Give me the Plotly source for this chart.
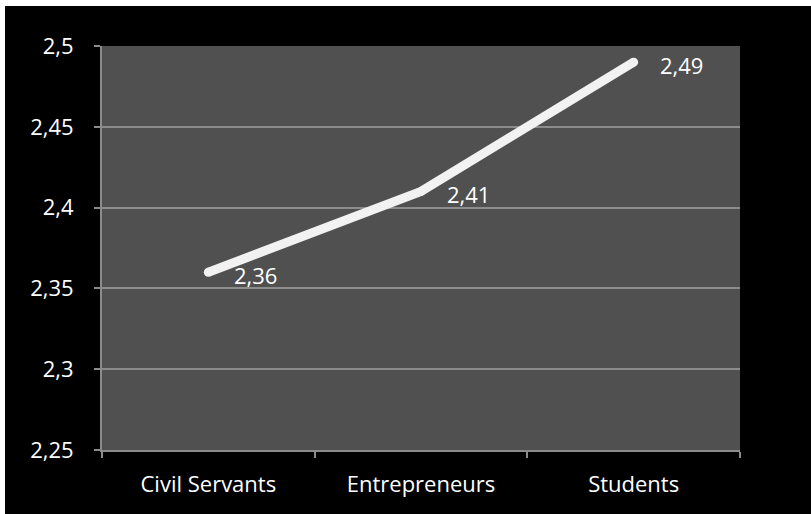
import plotly.graph_objects as go

categories = ["Civil Servants", "Entrepreneurs", "Students"]
values = [2.36, 2.41, 2.49]
value_labels = ["2,36", "2,41", "2,49"]
y_ticks = [2.25, 2.3, 2.35, 2.4, 2.45, 2.5]

W, H = 811, 514
ML, MR, MT, MB = 102, 71, 46, 64
pw, ph = W - ML - MR, H - MT - MB

line_col = "#f2f2f2"
grid_col = "#8c8c8c"
font_family = "'Open Sans', sans-serif"
fs = 22

fig = go.Figure()
fig.add_trace(go.Scatter(
    x=categories, y=values, mode="lines+markers",
    line=dict(color=line_col, width=9),
    marker=dict(color=line_col, size=9, line=dict(width=0)),
    hoverinfo="skip", showlegend=False,
))

annotations = []
for c, v, t in zip(categories, values, value_labels):
    annotations.append(dict(
        x=c, y=v, xref="x", yref="y", text=t, showarrow=False,
        xanchor="left", yanchor="middle", xshift=24, yshift=-3,
        font=dict(color="white", size=fs, family=font_family),
    ))

# thin white strips along the top and left edges of the picture
shapes = [
    dict(type="rect", xref="paper", yref="paper", layer="below",
         x0=-ML / pw - 0.05, x1=(W - ML) / pw + 0.05,
         y0=(ph + MT - 6) / ph, y1=(ph + MT) / ph + 0.05,
         fillcolor="white", line=dict(width=0)),
    dict(type="rect", xref="paper", yref="paper", layer="below",
         x0=-ML / pw - 0.05, x1=(5 - ML) / pw,
         y0=-MB / ph - 0.05, y1=(ph + MT) / ph + 0.05,
         fillcolor="white", line=dict(width=0)),
]

fig.update_layout(
    width=W, height=H,
    margin=dict(l=ML, r=MR, t=MT, b=MB, pad=0),
    paper_bgcolor="black",
    plot_bgcolor="#505050",
    separators=",.",
    font=dict(family=font_family, color="white", size=fs),
    annotations=annotations,
    shapes=shapes,
    showlegend=False,
)
fig.update_xaxes(
    type="category", range=[-0.5, 2.5],
    tickson="boundaries", ticks="outside", ticklen=6, tickwidth=1.5, tickcolor=grid_col,
    showline=True, linecolor=grid_col, linewidth=2,
    showgrid=False, zeroline=False,
    tickfont=dict(color="white", size=fs, family=font_family),
    ticklabelstandoff=14,
)
fig.update_yaxes(
    range=[2.25, 2.5], tickvals=y_ticks,
    ticks="outside", ticklen=6, tickwidth=1.5, tickcolor=grid_col,
    showline=True, linecolor=grid_col, linewidth=2,
    showgrid=True, gridcolor=grid_col, gridwidth=2,
    zeroline=False,
    tickfont=dict(color="white", size=fs, family=font_family),
    ticklabelstandoff=16,
)

fig.write_html("out.html")
